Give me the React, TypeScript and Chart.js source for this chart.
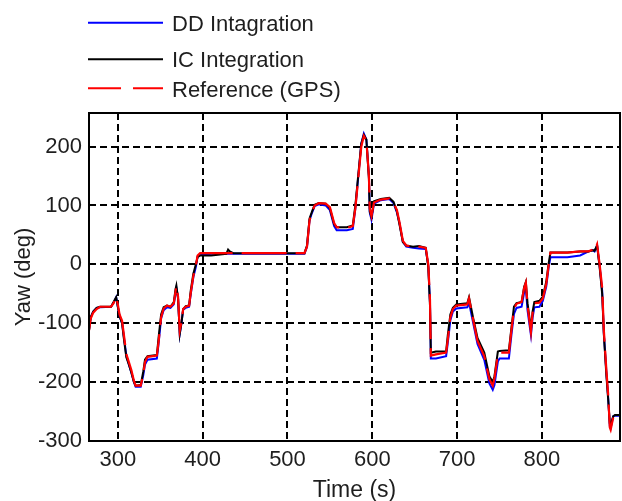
import React, { useEffect, useRef } from "react";
import { Chart, registerables } from "chart.js";

Chart.register(...registerables);

// ---- data ----
const time = [
  266, 268, 271, 275, 279, 292, 295, 298, 300, 302,
  305, 307, 310, 313, 316, 319, 321, 327, 330, 332,
  335, 346, 348, 351, 354, 358, 362, 366, 368, 369,
  371, 373, 375, 377, 380, 384, 386, 389, 392, 394,
  397, 405, 410, 428, 430, 432, 436, 500, 520, 523,
  526, 529, 532, 537, 545, 550, 555, 558, 570, 577,
  580, 583, 587, 590, 593, 596, 597, 599, 602, 610,
  620, 625, 629, 632, 636, 640, 648, 655, 663, 666,
  668, 669, 675, 687, 689, 692, 695, 699, 712, 714,
  719, 724, 732, 738, 742, 744, 748, 750, 761, 764,
  767, 770, 776, 779, 781, 783, 787, 789, 791, 797,
  801, 805, 808, 810, 830, 845, 855, 860, 862, 865,
  868, 871, 873, 876, 878, 880, 881, 884, 886, 892,
];

const gpsYaw = [
  -112, -92, -82, -76, -72, -72, -66, -55, -68, -85,
  -96, -118, -152, -166, -180, -198, -206, -206, -186, -166,
  -157, -155, -132, -90, -75, -70, -72, -66, -46, -37,
  -55, -112, -98, -76, -72, -70, -48, -20, -2, 15,
  19, 19, 19, 19, 19, 19, 19, 19, 19, 30,
  75, 88, 100, 104, 103, 97, 70, 63, 62, 65,
  95, 140, 200, 218, 210, 150, 95, 82, 105, 110,
  112, 105, 92, 72, 40, 32, 30, 30, 28, 0,
  -60, -155, -153, -150, -128, -90, -76, -70, -68, -58,
  -95, -130, -156, -195, -206, -194, -153, -150, -150, -112,
  -76, -67, -64, -40, -31, -70, -115, -82, -66, -65,
  -58, -34, 0, 20, 20, 22, 22, 25, 22, 34,
  0, -40, -113, -181, -220, -277, -281, -260, null, null,
];

const icYaw = [
  -112, -90, -80, -74, -72, -72, -64, -56, -72, -88,
  -100, -125, -158, -170, -184, -200, -206, -205, -182, -162,
  -156, -154, -125, -85, -73, -70, -72, -64, -42, -36,
  -58, -118, -100, -76, -71, -70, -44, -16, 0, 12,
  15, 15, 15, 18, 25, 22, 19, 19, 19, 32,
  78, 90, 101, 104, 103, 95, 68, 63, 63, 66,
  100, 145, 205, 220, 212, 145, 90, 80, 107, 111,
  113, 106, 90, 68, 38, 32, 30, 31, 28, -5,
  -70, -150, -148, -148, -120, -85, -74, -68, -66, -56,
  -92, -125, -150, -190, -200, -190, -148, -147, -146, -108,
  -72, -66, -64, -38, -30, -66, -110, -80, -64, -62,
  -55, -30, 3, 20, 20, 22, 22, 24, 23, 32,
  -5, -50, -120, -190, -228, -270, -272, -258, -256, -256,
];

const ddYaw = [
  -112, -90, -80, -74, -73, -72, -65, -56, -72, -88,
  -100, -122, -155, -170, -184, -200, -208, -208, -188, -170,
  -162, -160, -135, -92, -78, -73, -74, -68, -48, -40,
  -58, -118, -100, -77, -74, -72, -50, -22, -4, 13,
  16, 17, 18, 18, 18, 18, 18, 18, 18, 30,
  75, 88, 99, 102, 100, 92, 65, 58, 58, 60,
  95, 142, 205, 222, 212, 150, 88, 76, 103, 109,
  111, 104, 88, 70, 38, 30, 28, 27, 26, -2,
  -65, -160, -160, -156, -133, -95, -80, -75, -73, -65,
  -100, -135, -162, -202, -213, -205, -165, -160, -160, -120,
  -84, -74, -72, -48, -40, -78, -120, -90, -73, -72,
  -62, -38, -4, 12, 12, 15, 22, 24, 22, 32,
  -3, -45, -118, -185, -225, -275, -278, -258, -257, -257,
];

const xTicks = [300, 400, 500, 600, 700, 800];
const yTicks = [-300, -200, -100, 0, 100, 200];
const seriesNames = ["DD Intagration", "IC Integration", "Reference (GPS)"];
const xTitle = "Time (s)";
const yTitle = "Yaw (deg)";

const FONT = '"Liberation Sans", Arial, sans-serif';
const TEXT = "#1e1e1e";

export default function App() {
  const canvasRef = useRef<HTMLCanvasElement | null>(null);

  useEffect(() => {
    document.body.style.margin = "0";
    const canvas = canvasRef.current;
    if (!canvas) return;

    const pts = (ys: (number | null)[]) => time.map((t, i) => ({ x: t, y: ys[i] }));

    const overlay = {
      id: "overlay",
      afterDraw(chart: any) {
        const { ctx, chartArea: a } = chart;
        ctx.save();
        // axes frame
        ctx.setLineDash([]);
        ctx.strokeStyle = "#000";
        ctx.lineWidth = 2;
        ctx.strokeRect(a.left, a.top, a.right - a.left, a.bottom - a.top);

        // legend
        const items = [
          { c: "#0000ff", dash: [] as number[], ly: 22.7, ty: 30.7 },
          { c: "#000000", dash: [] as number[], ly: 59.3, ty: 66.7 },
          { c: "#ff0000", dash: [33, 12], ly: 88.3, ty: 96.7 },
        ];
        items.forEach((it, i) => {
          ctx.beginPath();
          ctx.setLineDash(it.dash);
          ctx.strokeStyle = it.c;
          ctx.lineWidth = 2;
          ctx.moveTo(88, it.ly);
          ctx.lineTo(163, it.ly);
          ctx.stroke();
          ctx.setLineDash([]);
          ctx.fillStyle = TEXT;
          ctx.font = `22px ${FONT}`;
          ctx.textAlign = "left";
          ctx.textBaseline = "alphabetic";
          ctx.fillText(seriesNames[i], 172, it.ty);
        });

        // axis titles
        ctx.fillStyle = TEXT;
        ctx.font = `23px ${FONT}`;
        ctx.textAlign = "center";
        ctx.textBaseline = "alphabetic";
        ctx.fillText(xTitle, (a.left + a.right) / 2, 496.5);

        ctx.translate(29.5, (a.top + a.bottom) / 2);
        ctx.rotate(-Math.PI / 2);
        ctx.font = `22px ${FONT}`;
        ctx.fillText(yTitle, 0, 0);
        ctx.restore();
      },
    };

    const chart = new Chart(canvas, {
      type: "line",
      data: {
        datasets: [
          {
            label: seriesNames[2],
            data: pts(gpsYaw),
            borderColor: "#ff0000",
            borderWidth: 2.2,
            borderDash: [45, 9],
            pointRadius: 0,
            tension: 0,
            fill: false,
          },
          {
            label: seriesNames[1],
            data: pts(icYaw),
            borderColor: "#000000",
            borderWidth: 2,
            pointRadius: 0,
            tension: 0,
            fill: false,
          },
          {
            label: seriesNames[0],
            data: pts(ddYaw),
            borderColor: "#0000ff",
            borderWidth: 2,
            pointRadius: 0,
            tension: 0,
            fill: false,
          },
        ],
      },
      options: {
        animation: false,
        responsive: false,
        devicePixelRatio: 1,
        layout: { padding: { top: 113, right: 2, left: 0, bottom: 0 } },
        plugins: {
          legend: { display: false },
          title: { display: false },
          tooltip: { enabled: false },
        },
        scales: {
          x: {
            type: "linear",
            min: 266,
            max: 892,
            afterBuildTicks: (s: any) => {
              s.ticks = xTicks.map((v) => ({ value: v }));
            },
            afterFit: (s: any) => {
              s.height = 60;
            },
            grid: { color: "#000", lineWidth: 2, drawTicks: false },
            border: { display: false, dash: [7, 4] },
            ticks: {
              font: { family: FONT, size: 22 },
              color: TEXT,
              padding: 6,
              maxRotation: 0,
              autoSkip: false,
            },
          },
          y: {
            type: "linear",
            min: -300,
            max: 257,
            afterBuildTicks: (s: any) => {
              s.ticks = yTicks.map((v) => ({ value: v }));
            },
            afterFit: (s: any) => {
              s.width = 89;
            },
            grid: { color: "#000", lineWidth: 2, drawTicks: false },
            border: { display: false, dash: [7, 4] },
            ticks: {
              font: { family: FONT, size: 22 },
              color: TEXT,
              padding: 7,
              autoSkip: false,
            },
          },
        },
      },
      plugins: [overlay],
    });

    return () => chart.destroy();
  }, []);

  return <canvas ref={canvasRef} width={622} height={501} style={{ display: "block" }} />;
}
